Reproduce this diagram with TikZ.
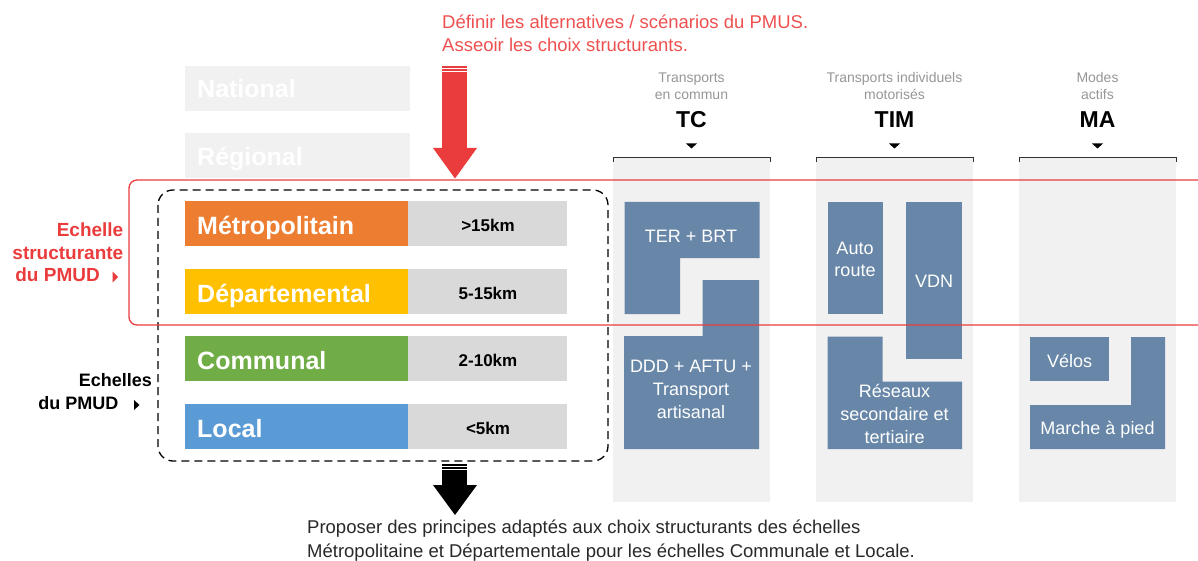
\documentclass[tikz,border=0pt]{standalone}
\usepackage{fontspec}
\setmainfont{Liberation Sans}
\definecolor{redC}{RGB}{234,60,60}
\definecolor{redT}{RGB}{238,80,80}
\definecolor{orangeC}{RGB}{237,125,49}
\definecolor{yellowC}{RGB}{255,192,0}
\definecolor{greenC}{RGB}{112,173,71}
\definecolor{blueC}{RGB}{91,155,213}
\definecolor{kmgray}{RGB}{217,217,217}
\definecolor{panelC}{RGB}{241,241,241}
\definecolor{blockC}{RGB}{104,135,168}
\definecolor{hdrgray}{RGB}{150,150,150}
\definecolor{txtdark}{RGB}{40,40,40}
\newcommand\fsz[2]{\fontsize{#1}{#2}\selectfont}
\tikzset{
  rowlab/.style={anchor=base west, text=white, font=\fsz{25}{30}\bfseries, inner sep=0},
  kmlab/.style={anchor=base, text=black, font=\fsz{17}{20}\bfseries, inner sep=0},
  blktxt/.style={anchor=base, text=white, font=\fsz{18}{22.7}, align=center, inner sep=0},
  hdrsmall/.style={anchor=base, text=hdrgray, font=\fsz{14}{17.5}, align=center, inner sep=0},
  hdrbig/.style={anchor=base, text=black, font=\fsz{23}{26}\bfseries, inner sep=0},
  sidelab/.style={anchor=base east, font=\fsz{19}{22.5}\bfseries, align=right, inner sep=0},
  sidelabk/.style={anchor=base east, font=\fsz{18}{22.5}\bfseries, align=right, inner sep=0},
  note/.style={anchor=base west, font=\fsz{18.5}{23.3}, align=left, inner sep=0},
}
\begin{document}
\begin{tikzpicture}[x=1pt,y=-1pt]
\useasboundingbox (0,0) rectangle (1198,561);
% ---- top note (anchor = baseline of last line)
\node[note, text=redT] (topnote) at (442,51.7) {Définir les alternatives / scénarios du PMUS.\\Asseoir les choix structurants.};
% ---- National / Regional
\fill[panelC] (185,66) rectangle (410,111);
\fill[panelC] (185,133) rectangle (410,178);
\node[rowlab] (national) at (197,98) {National};
\node[rowlab] (regional) at (197,166) {Régional};
% ---- scale rows
\fill[orangeC] (185,201) rectangle (408,246);
\fill[kmgray] (408,201) rectangle (567,246);
\fill[yellowC] (185,269) rectangle (408,314);
\fill[kmgray] (408,269) rectangle (567,314);
\fill[greenC] (185,336) rectangle (408,381);
\fill[kmgray] (408,336) rectangle (567,381);
\fill[blueC] (185,404) rectangle (408,449);
\fill[kmgray] (408,404) rectangle (567,449);
\node[rowlab] (metro) at (197,234) {Métropolitain};
\node[rowlab] (dept) at (197,302) {Départemental};
\node[rowlab] (comm) at (197,369) {Communal};
\node[rowlab] (local) at (197,437) {Local};
\node[kmlab] (km1) at (488,231.5) {>15km};
\node[kmlab] (km2) at (488,299.5) {5-15km};
\node[kmlab] (km3) at (488,366.5) {2-10km};
\node[kmlab] (km4) at (488,434.5) {<5km};
% ---- side labels
\node[sidelab, text=redC] (structlab) at (123.5,259) {Echelle\\structurante};
\node[sidelab, text=redC] (structlab2) at (100,281.7) {du PMUD};
\fill[redC] (112.5,271.5) -- (118,277) -- (112.5,282.5) -- cycle;
\node[sidelabk, text=black] (pmudlab) at (152,386.7) {Echelles};
\node[sidelabk, text=black] (pmudlab2) at (118.5,409.3) {du PMUD};
\fill[black] (134,400) -- (139.5,405) -- (134,410) -- cycle;
% ---- column panels
\foreach \x in {613,816,1019}{
  \fill[panelC] (\x,157) rectangle (\x+157,502);
  \draw[black!80, line width=0.8] (\x,162.5) -- (\x,157) -- (\x+157,157) -- (\x+157,162.5);
  \fill[black] (\x+73,143.5) -- (\x+84,143.5) -- (\x+78.5,148.5) -- cycle;
}
\node[hdrsmall] (tcs) at (691.5,100) {Transports\\en commun};
\node[hdrbig] (tc) at (691.5,127.5) {TC};
\node[hdrsmall] (tims) at (894.5,100) {Transports individuels\\motorisés};
\node[hdrbig] (tim) at (894.5,127.5) {TIM};
\node[hdrsmall] (mas) at (1097.5,100) {Modes\\actifs};
\node[hdrbig] (ma) at (1097.5,127.5) {MA};
% ---- blocks TC
\fill[blockC] (624.5,202) -- (759.5,202) -- (759.5,258) -- (680,258) -- (680,314) -- (624.5,314) -- cycle;
\fill[blockC] (702.5,280) -- (759,280) -- (759,449) -- (624,449) -- (624,336) -- (702.5,336) -- cycle;
\node[blktxt] (ter) at (691,242.5) {TER + BRT};
\node[blktxt] (ddd) at (691,418.3) {DDD + AFTU +\\Transport\\artisanal};
% ---- blocks TIM
\fill[blockC] (827.5,202) rectangle (883,314);
\fill[blockC] (906,202) rectangle (962,359);
\fill[blockC] (827.5,336.5) -- (882.5,336.5) -- (882.5,381.5) -- (962,381.5) -- (962,449) -- (827.5,449) -- cycle;
\node[blktxt] (auto) at (855,276.7) {Auto\\route};
\node[blktxt] (vdn) at (934,287.5) {VDN};
\node[blktxt] (res) at (894.5,443.3) {Réseaux\\secondaire et\\tertiaire};
% ---- blocks MA
\fill[blockC] (1030,337) rectangle (1109,381);
\fill[blockC] (1131,337) -- (1165,337) -- (1165,449) -- (1030,449) -- (1030,405) -- (1131,405) -- cycle;
\node[blktxt] (velo) at (1069.5,367) {Vélos};
\node[blktxt] (marche) at (1097.5,434) {Marche à pied};
% ---- dashed group
\draw[black, line width=1.3, dash pattern=on 8pt off 5pt, rounded corners=15] (158,190) rectangle (608,461);
% ---- red frame
\draw[redC, line width=1.3, rounded corners=8] (1215,180) -- (129,180) -- (129,325) -- (1215,325);
% ---- red arrow
\fill[redC] (442,66) rectangle (467,67.6);
\fill[redC] (442,69.2) rectangle (467,70.8);
\fill[redC] (442,72.4) rectangle (467,148.5);
\fill[redC] (433,148) -- (477,148) -- (455,178.5) -- cycle;
% ---- black arrow
\fill[black] (442,464) rectangle (467,465.6);
\fill[black] (442,467.2) rectangle (467,468.8);
\fill[black] (442,470.4) rectangle (467,485.5);
\fill[black] (433,485) -- (477,485) -- (455,515) -- cycle;
% ---- bottom note
\node[note, text=txtdark] (botnote) at (307,557) {Proposer des principes adaptés aux choix structurants des échelles\\Métropolitaine et Départementale pour les échelles Communale et Locale.};
\end{tikzpicture}
\end{document}
